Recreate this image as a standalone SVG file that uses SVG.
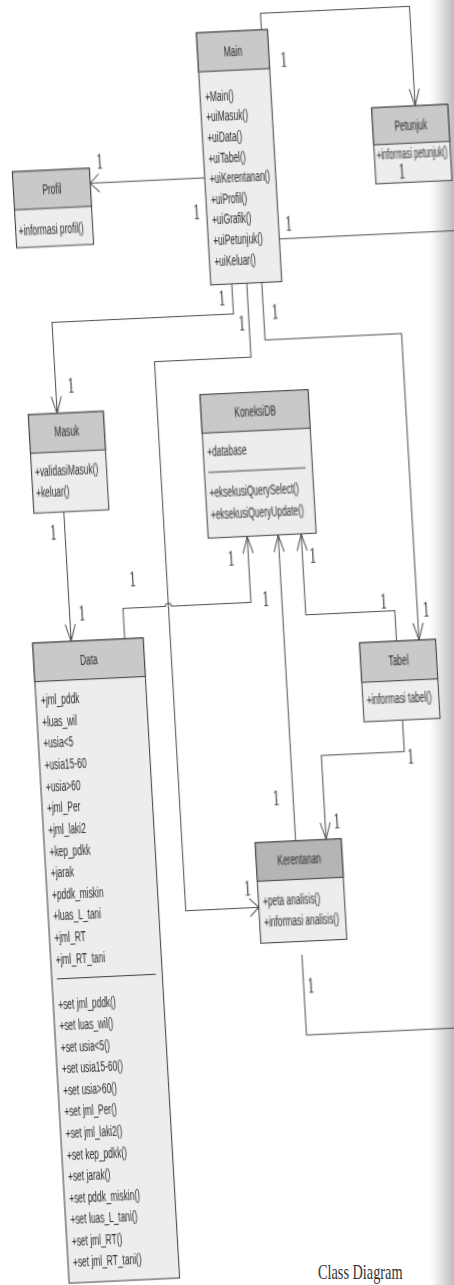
<svg xmlns="http://www.w3.org/2000/svg" width="454" height="1285" viewBox="0 0 454 1285">
<style>
.bd{fill:#ededed;stroke:#3a3a3a;stroke-width:1}
.hd{fill:#c9c9c9;stroke:#3a3a3a;stroke-width:1}
.hk{fill:#b4b4b4;stroke:#3a3a3a;stroke-width:1}
.t{font-family:"Liberation Sans",Arial,sans-serif;font-size:14px;fill:#2a2a2a}
.c{text-anchor:middle}
.m{font-family:"Liberation Serif","Times New Roman",serif;font-size:22px;fill:#333;text-anchor:middle}
.ln{fill:none;stroke:#4a4a4a;stroke-width:1}
.sep{stroke:#3a3a3a;stroke-width:1}
.cap{font-family:"Liberation Serif","Times New Roman",serif;font-size:22px;fill:#333}
</style>
<defs>
<marker id="av" viewBox="0 0 17 10" refX="17" refY="5" markerWidth="17" markerHeight="10" markerUnits="userSpaceOnUse" orient="auto" overflow="visible"><path d="M0,0 L17,5 L0,10" fill="none" stroke="#4a4a4a" stroke-width="1"/></marker>
<marker id="ah" viewBox="0 0 9 18" refX="9" refY="9" markerWidth="9" markerHeight="18" markerUnits="userSpaceOnUse" orient="auto" overflow="visible"><path d="M0,0 L9,9 L0,18" fill="none" stroke="#4a4a4a" stroke-width="1"/></marker>
<linearGradient id="shade" x1="0" y1="0" x2="1" y2="0"><stop offset="0" stop-color="#bdbdbd" stop-opacity="0"/><stop offset="1" stop-color="#b5b5b5" stop-opacity="0.9"/></linearGradient>
</defs>
<rect x="0" y="0" width="454" height="1285" fill="#ffffff"/>
<rect x="430" y="0" width="24" height="1285" fill="url(#shade)"/>
<g transform="matrix(1,-0.047,0.057,1,0,0)" opacity="0.99">
<g id="connectors">
<path class="ln" d="M259,42 V25.5 H408 V125" marker-end="url(#av)"/>
<path class="ln" d="M194,187 H79.5" marker-end="url(#ah)"/>
<path class="ln" d="M265,251.5 H480"/>
<path class="ln" d="M215,294 V324 H33.5 V415" marker-end="url(#av)"/>
<path class="ln" d="M230,294 V368 H133.5 V917 H206.5" marker-end="url(#ah)"/>
<path class="ln" d="M245,294 V351.5 H381.5 V658" marker-end="url(#av)"/>
<path class="ln" d="M34.5,513.5 V643" marker-end="url(#av)"/>
<path class="ln" d="M88,643 V612.5 H130.5 A3,3 0 0 1 136.5,612.5 H216 V546.5" marker-end="url(#av)"/>
<path class="ln" d="M247,852.5 V546.5" marker-end="url(#av)"/>
<path class="ln" d="M359,658 V627.5 H270 V546.5" marker-end="url(#av)"/>
<path class="ln" d="M360.5,737 V768.5 H277.5 V852.5" marker-end="url(#av)"/>
<path class="ln" d="M246.8,966.5 V1046.6 H480"/>
</g>
<g id="Main">
<rect class="bd" x="194" y="42" width="71" height="252"/>
<rect class="hd" x="194" y="42" width="71" height="39"/>
<text class="t c" transform="translate(229.5,66.5) scale(0.6,1)">Main</text>
<g class="t" transform="translate(199,0) scale(0.6,1)">
<text y="110.5">+Main()</text>
<text y="131.1">+uiMasuk()</text>
<text y="151.7">+uiData()</text>
<text y="172.3">+uiTabel()</text>
<text y="192.9">+uiKerentanan()</text>
<text y="213.5">+uiProfil()</text>
<text y="234.1">+uiGrafik()</text>
<text y="254.7">+uiPetunjuk()</text>
<text y="275.3">+uiKeluar()</text>
</g>
</g>
<g id="Petunjuk">
<rect class="bd" x="364.5" y="125" width="76" height="76"/>
<rect class="hd" x="364.5" y="125" width="76" height="37"/>
<text class="t c" transform="translate(402.5,148.5) scale(0.6,1)">Petunjuk</text>
<text class="t" transform="translate(367,176.5) scale(0.6,1)" textLength="118" lengthAdjust="spacingAndGlyphs">+informasi petunjuk()</text>
</g>
<g id="Profil">
<rect class="bd" x="2.5" y="172" width="77" height="76"/>
<rect class="hd" x="2.5" y="172" width="77" height="38"/>
<text class="t c" transform="translate(41,196) scale(0.6,1)">Profil</text>
<text class="t" transform="translate(5.5,236) scale(0.6,1)">+informasi profil()</text>
</g>
<g id="Masuk">
<rect class="bd" x="4.6" y="415" width="75" height="98.5"/>
<rect class="hd" x="4.6" y="415" width="75" height="38.5"/>
<text class="t c" transform="translate(42,438) scale(0.6,1)">Masuk</text>
<g class="t" transform="translate(8,0) scale(0.6,1)">
<text y="476.5">+validasiMasuk()</text>
<text y="498">+keluar()</text>
</g>
</g>
<g id="KoneksiDB">
<rect class="bd" x="177" y="403" width="108" height="143.5"/>
<rect class="hd" x="177" y="403" width="108" height="38.5"/>
<text class="t c" transform="translate(231,427) scale(0.6,1)">KoneksiDB</text>
<line class="sep" x1="181" y1="481" x2="278" y2="481"/>
<g class="t" transform="translate(181,0) scale(0.6,1)">
<text y="464.5">+database</text>
<text y="506">+eksekusiQuerySelect()</text>
<text y="528">+eksekusiQueryUpdate()</text>
</g>
</g>
<g id="Data">
<rect class="bd" x="-4" y="643" width="110.5" height="640"/>
<rect class="hd" x="-4" y="643" width="110.5" height="38.5"/>
<text class="t c" transform="translate(51,667) scale(0.6,1)">Data</text>
<line class="sep" x1="1" y1="979" x2="100" y2="979"/>
<g class="t" transform="translate(1,0) scale(0.6,1)">
<text y="705">+jml_pddk</text>
<text y="726.6">+luas_wil</text>
<text y="748.2">+usia&lt;5</text>
<text y="769.8">+usia15-60</text>
<text y="791.4">+usia&gt;60</text>
<text y="813">+jml_Per</text>
<text y="834.6">+jml_laki2</text>
<text y="856.2">+kep_pdkk</text>
<text y="877.8">+jarak</text>
<text y="899.4">+pddk_miskin</text>
<text y="921">+luas_L_tani</text>
<text y="942.6">+jml_RT</text>
<text y="964.2">+jml_RT_tani</text>
<text y="1009">+set jml_pddk()</text>
<text y="1030.5">+set luas_wil()</text>
<text y="1052.1">+set usia&lt;5()</text>
<text y="1073.6">+set usia15-60()</text>
<text y="1095.1">+set usia&gt;60()</text>
<text y="1116.7">+set jml_Per()</text>
<text y="1138.2">+set jml_laki2()</text>
<text y="1159.7">+set kep_pdkk()</text>
<text y="1181.2">+set jarak()</text>
<text y="1202.8">+set pddk_miskin()</text>
<text y="1224.3">+set luas_L_tani()</text>
<text y="1245.8">+set jml_RT()</text>
<text y="1267.4">+set jml_RT_tani()</text>
</g>
</g>
<g id="Tabel">
<rect class="bd" x="322" y="658" width="76" height="79"/>
<rect class="hd" x="322" y="658" width="76" height="39.5"/>
<text class="t c" transform="translate(360,681.5) scale(0.6,1)">Tabel</text>
<text class="t" transform="translate(326,719.5) scale(0.6,1)">+informasi tabel()</text>
</g>
<g id="Kerentanan">
<rect class="bd" x="206.5" y="852.5" width="86" height="100.5"/>
<rect class="hk" x="206.5" y="852.5" width="86" height="38.5"/>
<text class="t c" transform="translate(249.5,876) scale(0.6,1)">Kerentanan</text>
<g class="t" transform="translate(211,0) scale(0.6,1)">
<text y="915.5">+peta analisis()</text>
<text y="937">+informasi analisis()</text>
</g>
</g>
<g id="multiplicities">
<text class="m" transform="translate(279.5,79.6) scale(0.6,1)">1</text>
<text class="m" transform="translate(391,197) scale(0.6,1)">1</text>
<text class="m" transform="translate(90,172.7) scale(0.6,1)">1</text>
<text class="m" transform="translate(184,228) scale(0.6,1)">1</text>
<text class="m" transform="translate(275,243.4) scale(0.6,1)">1</text>
<text class="m" transform="translate(204.2,315) scale(0.6,1)">1</text>
<text class="m" transform="translate(222.7,341) scale(0.6,1)">1</text>
<text class="m" transform="translate(256.6,330.5) scale(0.6,1)">1</text>
<text class="m" transform="translate(48.7,394.8) scale(0.6,1)">1</text>
<text class="m" transform="translate(22.9,540.3) scale(0.6,1)">1</text>
<text class="m" transform="translate(46.7,622.7) scale(0.6,1)">1</text>
<text class="m" transform="translate(99.4,591.2) scale(0.6,1)">1</text>
<text class="m" transform="translate(198.7,574.8) scale(0.6,1)">1</text>
<text class="m" transform="translate(231,616.4) scale(0.6,1)">1</text>
<text class="m" transform="translate(280.3,576) scale(0.6,1)">1</text>
<text class="m" transform="translate(348.2,624.5) scale(0.6,1)">1</text>
<text class="m" transform="translate(390.3,634.8) scale(0.6,1)">1</text>
<text class="m" transform="translate(366.6,780.4) scale(0.6,1)">1</text>
<text class="m" transform="translate(229.9,816.3) scale(0.6,1)">1</text>
<text class="m" transform="translate(289.1,841.7) scale(0.6,1)">1</text>
<text class="m" transform="translate(196.2,904.5) scale(0.6,1)">1</text>
<text class="m" transform="translate(253.9,1004.4) scale(0.6,1)">1</text>
</g>
</g>
<text class="cap" transform="translate(318,1279) scale(0.65,1)">Class Diagram</text>
</svg>
